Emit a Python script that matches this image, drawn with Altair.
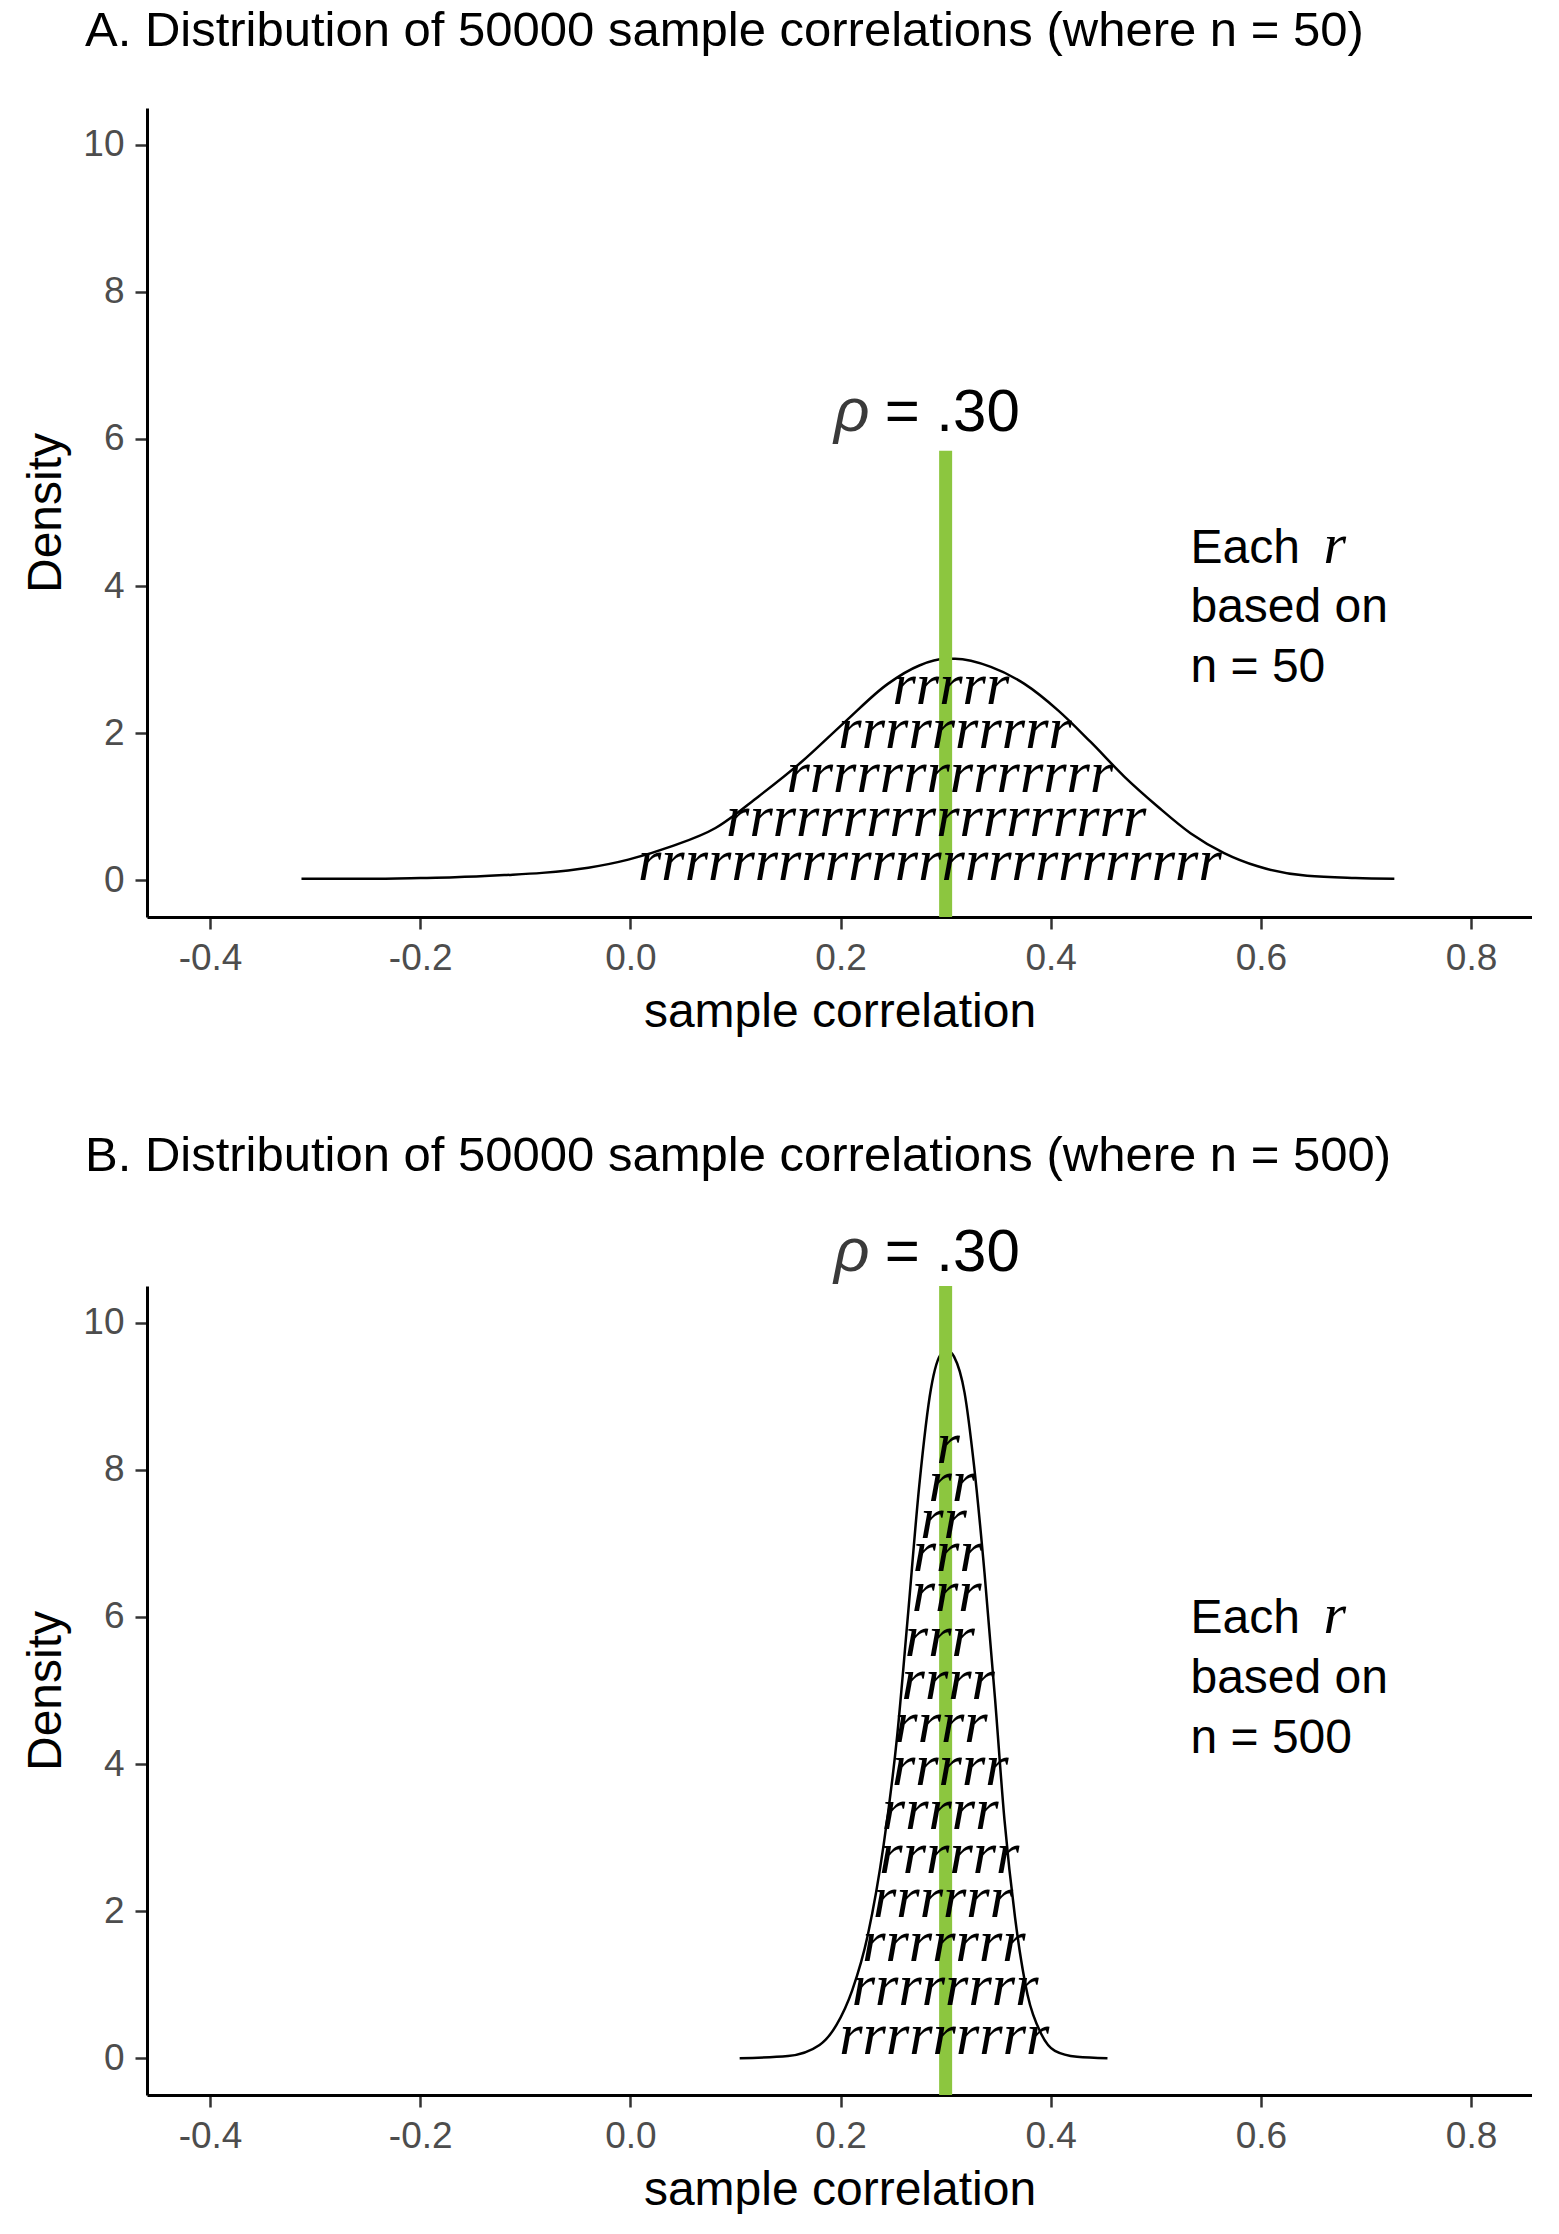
import altair as alt
import pandas as pd

# ---------------- data ----------------
x_ticks = [-0.4, -0.2, 0.0, 0.2, 0.4, 0.6, 0.8]
y_ticks = [0, 2, 4, 6, 8, 10]
x_domain = [-0.46, 0.858]
y_domain = [-0.5, 10.5]

titles = [
    "A. Distribution of 50000 sample correlations (where n = 50)",
    "B. Distribution of 50000 sample correlations (where n = 500)",
]
title_offsets = [13, 1]

rho = 0.3
rho_line_top = [5.84, 10.5]
rho_label_y = [6.11, 10.7]

# panel A density curve (n = 50)
curve_a_x = [-0.313, -0.25, -0.20, -0.167, -0.12, -0.084, -0.04, -0.002, 0.039, 0.081,
             0.122, 0.163, 0.204, 0.245, 0.275, 0.299, 0.309, 0.343, 0.375, 0.407,
             0.438, 0.470, 0.502, 0.533, 0.565, 0.597, 0.644, 0.69, 0.727]
curve_a_y = [0.02, 0.02, 0.03, 0.04, 0.07, 0.10, 0.17, 0.28, 0.46, 0.71,
             1.14, 1.61, 2.15, 2.67, 2.92, 3.01, 3.01, 2.90, 2.67, 2.31,
             1.88, 1.41, 1.00, 0.64, 0.37, 0.19, 0.06, 0.03, 0.02]

# panel B density curve (n = 500)
curve_b_x = [0.104, 0.150, 0.180, 0.196, 0.211, 0.226, 0.241, 0.254, 0.264, 0.275,
             0.286, 0.296, 0.302, 0.308, 0.318, 0.327, 0.337, 0.347, 0.356, 0.366,
             0.378, 0.391, 0.404, 0.425, 0.454]
curve_b_y = [0.0, 0.03, 0.18, 0.45, 0.92, 1.68, 2.90, 4.40, 6.00, 7.80,
             9.10, 9.58, 9.62, 9.54, 9.05, 8.06, 6.60, 4.89, 3.24, 1.92,
             0.86, 0.33, 0.10, 0.02, 0.0]

# rows of "r" glyphs (bottom to top)
rows_a_count = [25, 18, 14, 10, 5]
rows_a_y = [0.0, 0.6, 1.2, 1.8, 2.4]
rows_a_x = [0.285, 0.291, 0.304, 0.309, 0.305]

rows_b_count = [9, 8, 7, 6, 6, 5, 5, 4, 4, 3, 3, 3, 2, 2, 1]
rows_b_y = [0.06, 0.72, 1.32, 1.92, 2.52, 3.12, 3.72, 4.30, 4.88, 5.47, 6.08, 6.62, 7.08, 7.58, 8.09]
rows_b_x = [0.2987, 0.2995, 0.2983, 0.2975, 0.3036, 0.2948, 0.3044, 0.2956, 0.3025, 0.2945,
            0.301, 0.302, 0.298, 0.306, 0.3025]

note_x = 0.533
note_lines_a = ["Each", "based on", "n = 50"]
note_y_a = [4.32, 3.51, 2.70]
note_lines_b = ["Each", "based on", "n = 500"]
note_y_b = [5.78, 4.97, 4.15]

GREEN = "#8CC63F"
SANS = "Liberation Sans"
SERIF = "Liberation Serif"


def panel(i, cx, cy, rx, ry, rc, nlines, ny):
    xs = alt.Scale(domain=x_domain, nice=False, zero=False)
    ys = alt.Scale(domain=y_domain, nice=False, zero=False)
    xax = alt.Axis(values=x_ticks, title="sample correlation",
                   labelExpr="(datum.value < 0 ? '-' : '') + format(abs(datum.value), '.1f')")
    yax = alt.Axis(values=y_ticks, title="Density", format="d")

    curve = pd.DataFrame({"x": cx, "y": cy})
    line = alt.Chart(curve).mark_line(color="black", strokeWidth=2.5, interpolate="monotone").encode(
        x=alt.X("x:Q", scale=xs, axis=xax),
        y=alt.Y("y:Q", scale=ys, axis=yax),
    )

    rule_df = pd.DataFrame({"x": [rho], "y": [y_domain[0]], "y2": [rho_line_top[i]]})
    rule = alt.Chart(rule_df).mark_rule(color=GREEN, strokeWidth=13).encode(
        x=alt.X("x:Q", scale=xs), y=alt.Y("y:Q", scale=ys), y2="y2:Q"
    )

    rows = pd.DataFrame({"x": rx, "y": ry, "t": ["r" * c for c in rc]})
    rtext = alt.Chart(rows).mark_text(
        font=SERIF, fontStyle="italic", fontSize=60, align="center", baseline="alphabetic", color="black"
    ).encode(x=alt.X("x:Q", scale=xs), y=alt.Y("y:Q", scale=ys), text="t:N")

    lab = pd.DataFrame({"x": [rho], "y": [rho_label_y[i]]})
    rho_eq = alt.Chart(lab).mark_text(
        text="= .30", font=SANS, fontSize=60, align="left", baseline="alphabetic", dx=-61, color="black"
    ).encode(x=alt.X("x:Q", scale=xs), y=alt.Y("y:Q", scale=ys))
    rho_sym = alt.Chart(lab).mark_text(
        text="ρ", font=SANS, fontStyle="italic", fontSize=62, align="right", baseline="alphabetic",
        dx=-76, color="#3a3a3a"
    ).encode(x=alt.X("x:Q", scale=xs), y=alt.Y("y:Q", scale=ys))

    notes = pd.DataFrame({"x": [note_x] * len(nlines), "y": ny, "t": nlines})
    ntext = alt.Chart(notes).mark_text(
        font=SANS, fontSize=48, align="left", baseline="alphabetic", color="black"
    ).encode(x=alt.X("x:Q", scale=xs), y=alt.Y("y:Q", scale=ys), text="t:N")

    nr = pd.DataFrame({"x": [note_x], "y": [ny[0]]})
    nrtext = alt.Chart(nr).mark_text(
        text="r", font=SERIF, fontStyle="italic", fontSize=58, align="left", baseline="alphabetic",
        dx=133, color="black"
    ).encode(x=alt.X("x:Q", scale=xs), y=alt.Y("y:Q", scale=ys))

    return alt.layer(line, rule, rtext, rho_eq, rho_sym, ntext, nrtext).properties(
        width=1385,
        height=809,
        title=alt.TitleParams(
            text=titles[i], anchor="start", frame="group", dx=-62, fontSize=49, font=SANS,
            fontWeight="normal", color="black", baseline="alphabetic", offset=title_offsets[i],
        ),
    )


pa = panel(0, curve_a_x, curve_a_y, rows_a_x, rows_a_y, rows_a_count, note_lines_a, note_y_a)
pb = panel(1, curve_b_x, curve_b_y, rows_b_x, rows_b_y, rows_b_count, note_lines_b, note_y_b)

chart = alt.vconcat(pa, pb, spacing=96).properties(
    padding={"left": 14, "top": -1, "right": 0, "bottom": 0}
).configure_view(strokeWidth=0).configure_axis(
    grid=False,
    domainColor="black",
    domainWidth=3,
    tickColor="#333333",
    tickWidth=2.5,
    tickSize=12,
    labelFont=SANS,
    labelFontSize=37,
    labelColor="#4D4D4D",
    labelPadding=11,
    titleFont=SANS,
    titleFontSize=48,
    titleFontWeight="normal",
    titleColor="black",
).configure_axisX(titlePadding=12).configure_axisY(titlePadding=12)

chart.save("out.html", embed_options={"renderer": "svg", "actions": False})
